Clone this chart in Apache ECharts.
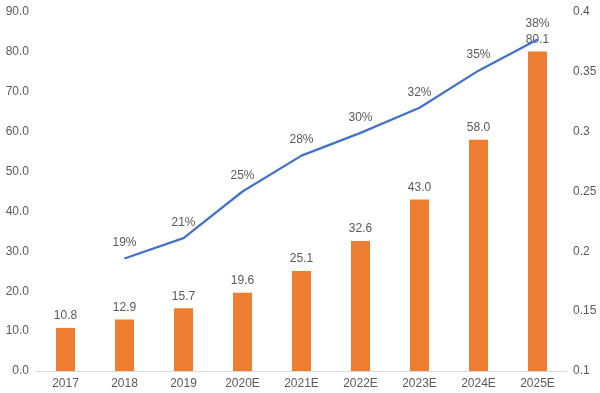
<!DOCTYPE html>
<html>
<head>
<meta charset="utf-8">
<script src="https://cdn.jsdelivr.net/npm/echarts@6/dist/echarts.min.js"></script>
<style>
html,body{margin:0;padding:0;background:#fff;}
#c{width:600px;height:393px;}
</style>
</head>
<body>
<div id="c"></div>
<script>
var categories = ['2017','2018','2019','2020E','2021E','2022E','2023E','2024E','2025E'];
var barValues = [10.8, 12.9, 15.7, 19.6, 25.1, 32.6, 43.0, 58.0, 80.1];
var rateValues = [null, 0.194, 0.211, 0.25, 0.28, 0.299, 0.32, 0.351, 0.377];

var chart = echarts.init(document.getElementById('c'));
var txt = '#595959';
var font = 'Liberation Sans, Arial, sans-serif';
chart.setOption({
  animation: false,
  textStyle: {fontFamily: font},
  grid: {left: 36, right: 33, top: 12, bottom: 22},
  xAxis: {
    type: 'category',
    data: categories,
    axisTick: {show: false},
    axisLine: {lineStyle: {color: '#D9D9D9', width: 1}},
    axisLabel: {color: txt, fontSize: 12, margin: 7, fontFamily: font}
  },
  yAxis: [{
    type: 'value', min: 0, max: 90, interval: 10,
    axisLine: {show: false}, axisTick: {show: false},
    splitLine: {show: false},
    axisLabel: {color: txt, fontSize: 12, margin: 7, fontFamily: font,
      formatter: function (v) { return v.toFixed(1); }}
  }, {
    type: 'value', min: 0.1, max: 0.4, interval: 0.05,
    axisLine: {show: false}, axisTick: {show: false},
    splitLine: {show: false},
    axisLabel: {color: txt, fontSize: 12, margin: 6, fontFamily: font,
      formatter: function (v) { return String(Math.round(v * 100) / 100); }}
  }],
  series: [{
    type: 'bar',
    data: barValues,
    barWidth: 19,
    itemStyle: {color: '#ED7D31'},
    label: {show: true, position: 'top', distance: 6, color: txt, fontSize: 12, fontFamily: font,
      formatter: function (p) { return p.value.toFixed(1); }}
  }, {
    type: 'line',
    yAxisIndex: 1,
    data: rateValues,
    showSymbol: true,
    symbol: 'circle',
    symbolSize: 1,
    itemStyle: {color: '#4472C4'},
    lineStyle: {color: '#4472C4', width: 2.25},
    label: {show: true, position: 'top', distance: 9, color: txt, fontSize: 12, fontFamily: font,
      formatter: function (p) { return Math.round(p.value * 100) + '%'; }},
    labelLayout: {hideOverlap: false},
    z: 3
  }]
});
</script>
</body>
</html>
